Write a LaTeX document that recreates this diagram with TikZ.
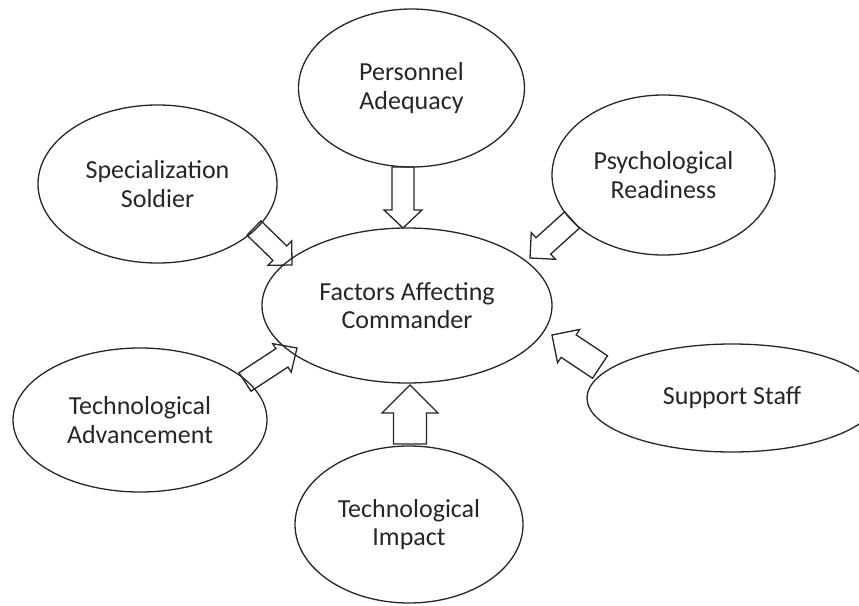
\documentclass[tikz,border=0pt]{standalone}
\usepackage{fontspec}
\setmainfont{Carlito}
\usetikzlibrary{calc,shapes.geometric}

\tikzset{
  bubble/.style={ellipse, draw=black!85, line width=1.3pt, align=center,
    inner sep=0pt, text=black!85, font=\fontsize{26}{28.5}\selectfont},
  blockarrow/.style={draw=black!85, line width=1.3pt, line join=miter},
}

% Hollow block arrow from #1 (tail) to #2 (tip):
% #3 shaft half width, #4 head half width, #5 head length
\newcommand\blockarr[5]{%
  \draw[blockarrow]
    ($(#1)!#3!90:(#2)$) --
    ($(#2)!#5!(#1)!#3!-90:(#1)$) --
    ($(#2)!#5!(#1)!#4!-90:(#1)$) --
    (#2) --
    ($(#2)!#5!(#1)!#4!90:(#1)$) --
    ($(#2)!#5!(#1)!#3!90:(#1)$) --
    ($(#1)!#3!-90:(#2)$) -- cycle;
}

\begin{document}
\begin{tikzpicture}[x=1pt,y=-1pt]
  \useasboundingbox (0,0) rectangle (859,605);

  % central factor and surrounding influences
  \node[bubble, minimum width=290pt, minimum height=155pt] (fac) at (407,305.5)
    {Factors Affecting\\Commander};
  \node[bubble, minimum width=226pt, minimum height=158pt] (pa) at (411.5,88)
    {Personnel\\Adequacy};
  \node[bubble, minimum width=239pt, minimum height=158pt] (ss) at (157.5,184)
    {Specialization\\Soldier};
  \node[bubble, minimum width=223pt, minimum height=160pt] (pr) at (663.5,175)
    {Psychological\\Readiness};
  \node[bubble, minimum width=254pt, minimum height=144pt] (ta) at (140,420)
    {Technological\\Advancement};
  \node[bubble, minimum width=290pt, minimum height=108pt] (sup) at (732,398)
    {Support Staff};
  \node[bubble, minimum width=228pt, minimum height=157pt] (ti) at (409,524.5)
    {Technological\\Impact};

  % arrow ends
  \coordinate (paT) at (403,167);   \coordinate (paH) at (403,228);
  \coordinate (ssT) at (254,228);   \coordinate (ssH) at (292,265);
  \coordinate (prT) at (572,220);   \coordinate (prH) at (530,258);
  \coordinate (taT) at (245,382);   \coordinate (taH) at (297,348);
  \coordinate (tiT) at (410,444);   \coordinate (tiH) at (410,385);
  \coordinate (supT) at (600,367);  \coordinate (supH) at (552,335);

  \blockarr{paT}{paH}{11pt}{19pt}{18pt}
  \blockarr{ssT}{ssH}{10pt}{17pt}{17pt}
  \blockarr{prT}{prH}{11pt}{18pt}{18pt}
  \blockarr{taT}{taH}{11pt}{17pt}{18pt}
  \blockarr{tiT}{tiH}{16.5pt}{28pt}{28pt}
  \blockarr{supT}{supH}{13.5pt}{20pt}{20pt}
\end{tikzpicture}
\end{document}
